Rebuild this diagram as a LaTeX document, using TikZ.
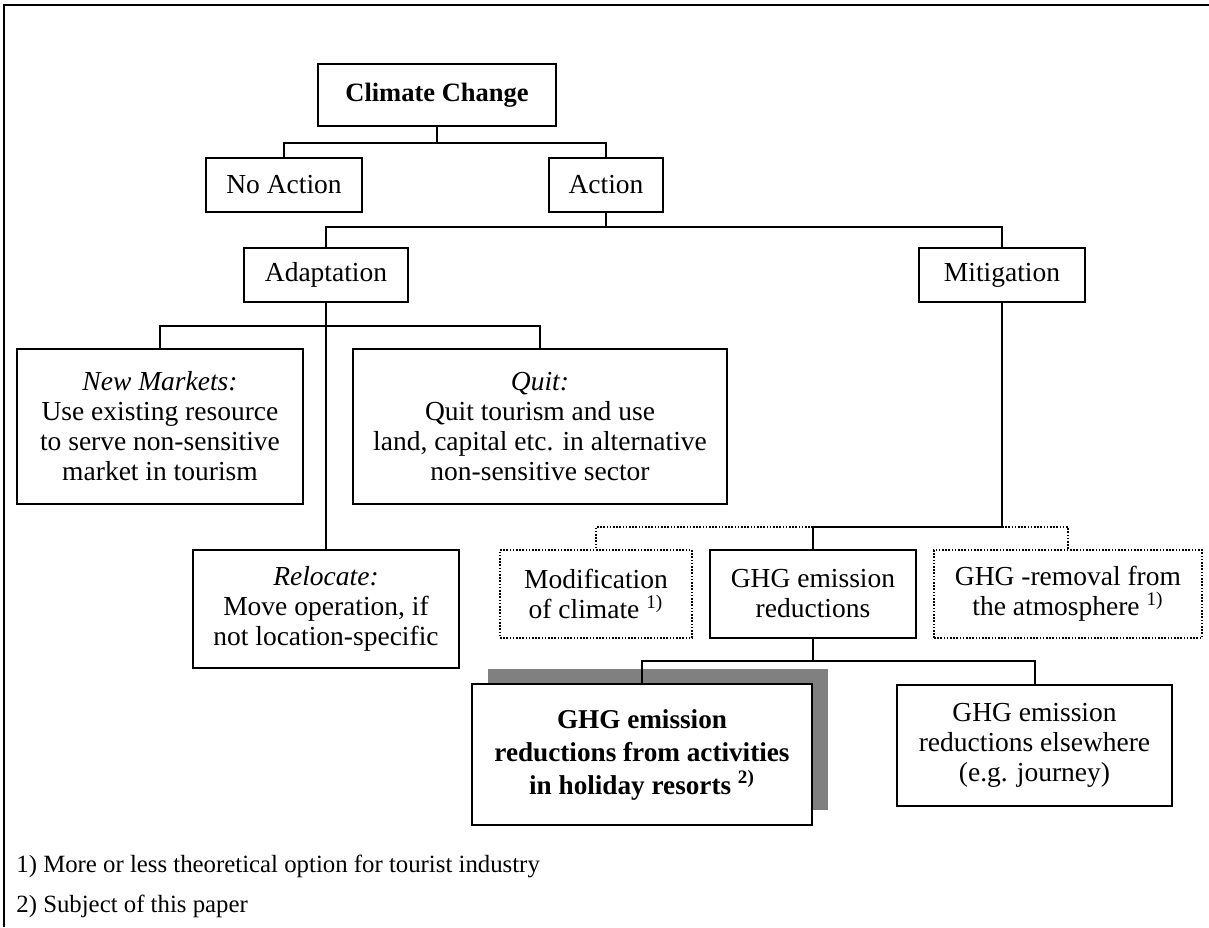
\documentclass[tikz,border=0pt]{standalone}
\usepackage{fontspec}
\setmainfont{Liberation Serif}
\usetikzlibrary{shadows}
\definecolor{shadowgray}{RGB}{128,128,128}
\newcommand{\mainfs}{\fontsize{13.75}{15}\selectfont}
\newcommand{\boldfs}{\fontsize{13.6}{16.5}\selectfont\bfseries}
\newcommand{\footfs}{\fontsize{12.4}{14}\selectfont}
\begin{document}
\begin{tikzpicture}[x=0.5pt,y=-0.5pt,
  box/.style={draw, line width=1pt, rectangle, align=center, inner sep=0pt, fill=white, font=\mainfs},
  dbox/.style={box, line width=0.8pt, dash pattern=on 0.8pt off 0.8pt},
  conn/.style={line width=1pt},
  dconn/.style={line width=0.8pt, dash pattern=on 0.8pt off 0.8pt},
  foot/.style={anchor=west, inner sep=0pt, font=\footfs}]
\useasboundingbox (0,0) rectangle (1209,927);
% frame
\draw[line width=1.2pt] (4,927) -- (4,5) -- (1209,5);

% nodes
\node[box, font=\fontsize{13.25}{15}\selectfont\bfseries, minimum width=119pt, minimum height=31pt] (cc) at (437,95) {Climate Change};
\node[box, minimum width=78pt, minimum height=27pt] (noact) at (284,185) {No Action};
\node[box, minimum width=57pt, minimum height=27pt] (act) at (606,185) {Action};
\node[box, minimum width=82pt, minimum height=27pt] (adapt) at (326,275) {Adaptation};
\node[box, minimum width=83pt, minimum height=27pt] (mitig) at (1002,275) {Mitigation};
\node[box, minimum width=143pt, minimum height=77.5pt] (nm) at (160,426.5) {\textit{New Markets:}\\Use existing resource\\to serve non-sensitive\\market in tourism};
\node[box, minimum width=187pt, minimum height=77.5pt] (quit) at (540,426.5) {\textit{Quit:}\\Quit tourism and use\\land, capital etc. in alternative\\non-sensitive sector};
\node[box, minimum width=133pt, minimum height=59pt] (reloc) at (326,609) {\textit{Relocate:}\\Move operation, if\\not location-specific};
\node[dbox, minimum width=96pt, minimum height=44pt] (modif) at (596,594) {Modification\\of climate \textsuperscript{1)}};
\node[box, minimum width=103pt, minimum height=44pt] (emis) at (813,594) {GHG emission\\reductions};
\node[dbox, minimum width=134pt, minimum height=44pt] (remov) at (1068,594) {GHG -removal from\\the atmosphere \textsuperscript{1)}};
\node[box, line width=1.4pt, font=\boldfs, minimum width=170pt, minimum height=70.5pt,
      general shadow={shadow xshift=8pt, shadow yshift=7.5pt, fill=shadowgray, draw=none}] (hol) at (642,754.5) {GHG emission\\reductions from activities\\in holiday resorts \textsuperscript{2)}};
\node[box, minimum width=137.5pt, minimum height=60.5pt] (else) at (1034.5,745.5) {GHG emission\\reductions elsewhere\\(e.g. journey)};

% junctions
\coordinate (j1) at (437,143);
\coordinate (j2) at (606,227);
\coordinate (j3) at (326,326);
\coordinate (j4) at (1002,527);
\coordinate (j4e) at (813,527);
\coordinate (j5) at (813,661);

% connectors
\draw[conn] (cc.south) -- (j1);
\draw[conn] (noact.north) |- (j1) -| (act.north);
\draw[conn] (act.south) -- (j2);
\draw[conn] (adapt.north) |- (j2) -| (mitig.north);
\draw[conn] (adapt.south) -- (reloc.north);
\draw[conn] (nm.north) |- (j3) -| (quit.north);
\draw[conn] (mitig.south) -- (j4) -- (j4e) -- (emis.north);
\draw[dconn] (j4e) -| (modif.north);
\draw[dconn] (j4) -| (remov.north);
\draw[conn] (emis.south) -- (j5);
\draw[conn] (hol.north) |- (j5) -| (else.north);

% footnotes
\node[foot] (fn1) at (16,866) {1) More or less theoretical option for tourist industry};
\node[foot] (fn2) at (16,906) {2) Subject of this paper};
\end{tikzpicture}
\end{document}
